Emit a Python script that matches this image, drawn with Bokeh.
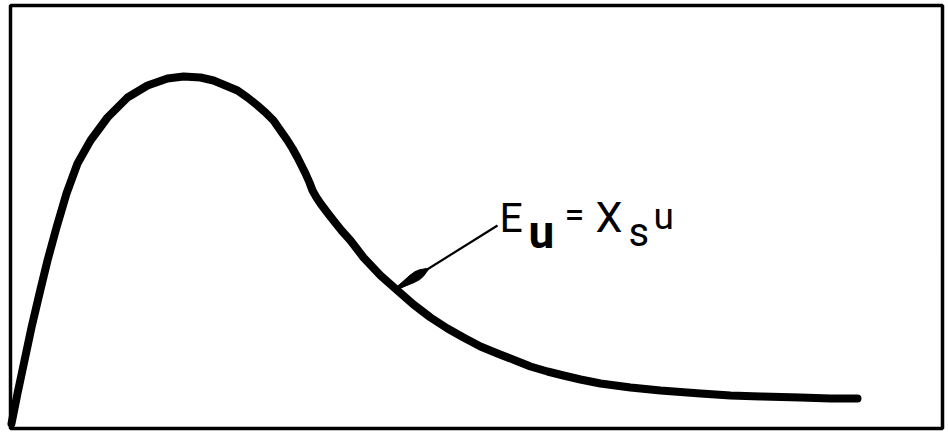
import math
from bokeh.plotting import figure
from bokeh.models import Range1d
from bokeh.core.properties import value
from bokeh.embed import file_html
from bokeh.resources import INLINE

# Curve E(u): steep rise to a single maximum, then a long decaying tail
u = [11, 17, 24, 31, 39, 47, 56, 66, 77, 90, 107, 127, 147, 167, 183,
     200, 213, 225, 237, 247, 257, 265, 273, 280, 287, 292, 297, 301, 305,
     309, 312, 316, 320, 326, 333, 341, 350, 363, 380, 397, 413, 430, 447,
     463, 480, 497, 515, 530, 547, 563, 580, 600, 630, 660, 700, 730, 760,
     800, 830, 857]
E = [9, 39, 72, 105, 139, 172, 205, 239, 269, 292, 315, 335, 347, 354, 356,
     355, 352, 347, 342, 335, 327, 320, 312, 302, 292, 284, 275, 267, 259,
     250, 242, 235, 229, 221, 212, 202, 192, 175, 157, 142, 128, 115, 104,
     95, 86, 79, 72, 66, 61, 57, 53, 49, 45, 42, 39, 37, 36, 35, 34, 34]

p = figure(width=948, height=432, output_backend="svg", toolbar_location=None,
           x_range=Range1d(0, 948), y_range=Range1d(0, 432),
           x_axis_location=None, y_axis_location=None,
           min_border=0, outline_line_color=None,
           background_fill_color="white", border_fill_color="white")
p.grid.visible = False

# frame around the diagram
p.quad(left=[10], right=[942], bottom=[4], top=[427], fill_color=None,
       line_color="black", line_width=3.5)

# main curve
p.line(u, E, line_color="black", line_width=8, line_join="round", line_cap="round")

# leader from the label to the curve, with a teardrop-shaped head at the curve
x0, y0, x1, y1 = 393, 142, 497, 207
p.line([x0, x1], [y0, y1], line_color="black", line_width=2.2)
L = math.hypot(x1 - x0, y1 - y0)
dx, dy = (x1 - x0) / L, (y1 - y0) / L
nx, ny = -dy, dx
prof = [(0, 0.8), (6, 1.6), (14, 2.8), (22, 4.2), (28, 4.6), (33, 3.8), (37, 2.2), (40, 1.0)]
side_a = [(x0 + t * dx + w * nx, y0 + t * dy + w * ny) for t, w in prof]
side_b = [(x0 + t * dx - w * nx, y0 + t * dy - w * ny) for t, w in reversed(prof)]
poly = side_a + side_b
p.patch([q[0] for q in poly], [q[1] for q in poly], fill_color="black", line_color="black",
        line_width=1)

font = value("Roboto")
# label  E_u = X_s u
def label(x, y, s, size, bold=False):
    p.text(x=[x], y=[y], text=[s], text_font=font, text_font_size=size,
           text_font_style="bold" if bold else "normal",
           text_baseline="alphabetic", text_align="left", text_color="black")

label(499, 215, "E", "41px")
label(528, 201, "u", "46px", bold=True)
label(564, 218, "=", "36px")
label(595, 216, "X", "43px")
label(628, 200, "s", "40px")
label(653, 216, "u", "37px")

open("out.html", "w").write(file_html(p, INLINE))
